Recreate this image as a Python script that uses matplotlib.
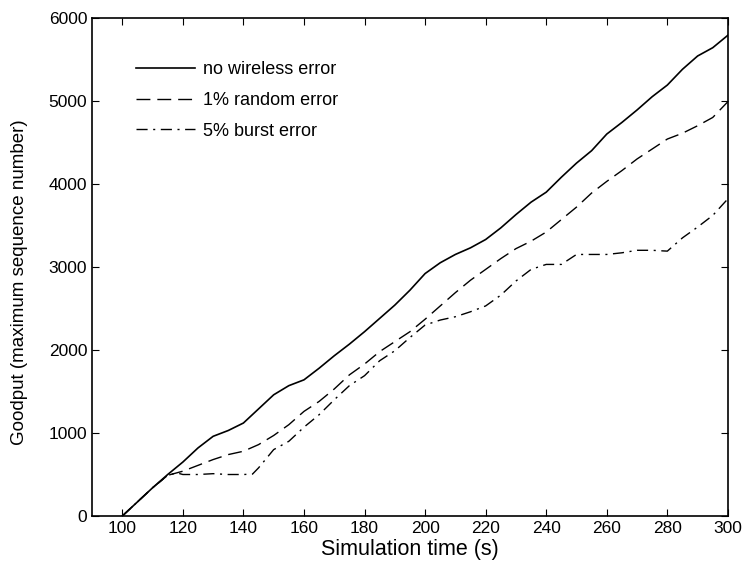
import matplotlib
matplotlib.use("Agg")
import matplotlib.pyplot as plt

plt.rcParams['font.family'] = ['Liberation Sans', 'DejaVu Sans']

# goodput curves
t_solid = [100, 105, 110, 115, 120, 125, 130, 135, 140, 145, 150, 155, 160, 165, 170,
           175, 180, 185, 190, 195, 200, 205, 210, 215, 220, 225, 230, 235, 240, 245,
           250, 255, 260, 265, 270, 275, 280, 285, 290, 295, 300]
no_error = [0, 170, 340, 500, 650, 820, 960, 1030, 1120, 1290, 1460, 1570, 1640, 1780, 1930,
            2070, 2220, 2380, 2540, 2720, 2920, 3050, 3150, 3230, 3330, 3470, 3630, 3780, 3900, 4080,
            4250, 4400, 4600, 4740, 4890, 5050, 5190, 5380, 5540, 5640, 5790]

t_random = t_solid
random_err = [0, 170, 340, 490, 540, 610, 680, 740, 780, 860, 970, 1100, 1260, 1380, 1530,
              1700, 1830, 1980, 2100, 2220, 2370, 2530, 2690, 2840, 2970, 3100, 3220, 3310, 3420, 3570,
              3720, 3890, 4030, 4160, 4300, 4420, 4540, 4610, 4700, 4800, 4990]

t_burst = [100, 105, 110, 115, 118, 120, 125, 130, 135, 140, 143, 145, 150, 155, 160, 165,
           170, 175, 180, 185, 190, 195, 200, 205, 210, 215, 220, 225, 230, 235, 240, 245,
           250, 255, 260, 265, 270, 275, 280, 285, 290, 295, 300]
burst_err = [0, 170, 340, 490, 520, 500, 500, 510, 500, 500, 505, 580, 800, 900, 1070, 1220,
             1400, 1570, 1690, 1870, 1990, 2150, 2300, 2360, 2400, 2460, 2530, 2660, 2830, 2970, 3030, 3030,
             3150, 3150, 3150, 3170, 3200, 3200, 3190, 3350, 3480, 3620, 3820]

fig = plt.figure(figsize=(7.42, 5.74), dpi=100)
ax = fig.add_axes([0.124, 0.101, 0.857, 0.868])

ax.plot(t_solid, no_error, color='black', linewidth=1.2, label='no wireless error')
ax.plot(t_random, random_err, color='black', linewidth=1.0, linestyle=(0, (10, 5)),
        label='1% random error')
ax.plot(t_burst, burst_err, color='black', linewidth=1.0, linestyle=(0, (8, 4, 1.5, 4)),
        label='5% burst error')

ax.set_xlim(90, 300)
ax.set_ylim(0, 6000)
ax.set_xticks(range(100, 301, 20))
ax.set_yticks(range(0, 6001, 1000))
ax.tick_params(direction='in', top=True, right=True, labelsize=12.5, length=5)
for s in ax.spines.values():
    s.set_linewidth(1.2)

ax.set_xlabel('Simulation time (s)', fontsize=15.5, labelpad=2)
ax.set_ylabel('Goodput (maximum sequence number)', fontsize=13.5)
ax.yaxis.set_label_coords(-0.1, 0.47)

ax.legend(loc='upper left', bbox_to_anchor=(0.043, 0.945), frameon=False, fontsize=13,
          handlelength=3.3, handletextpad=0.45, labelspacing=0.75)

fig.savefig('out.png', dpi=100)
